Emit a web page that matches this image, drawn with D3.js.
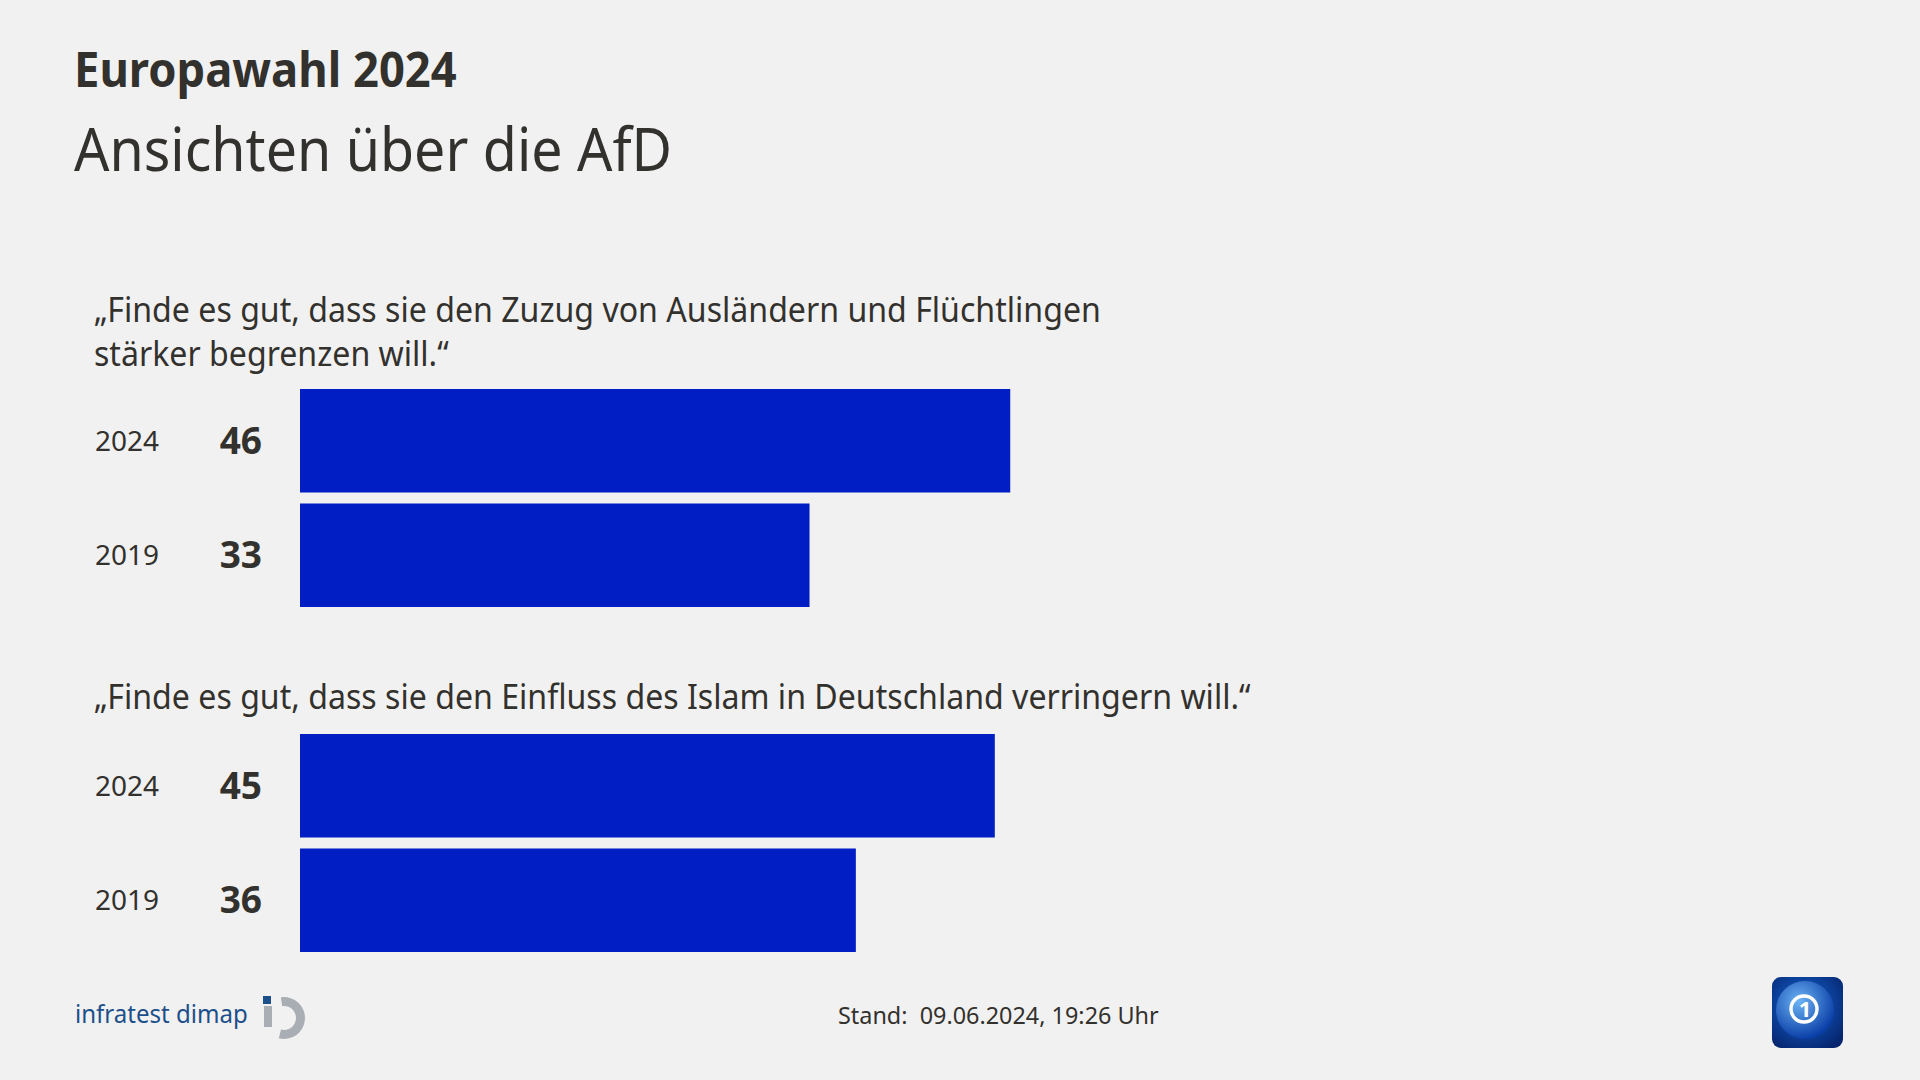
<!DOCTYPE html>
<html>
<head>
<meta charset="utf-8">
<script src="https://cdn.jsdelivr.net/npm/d3@7"></script>
<style>
  html, body { margin: 0; padding: 0; background: #f1f1f1; }
  svg { display: block; }
</style>
</head>
<body>
<svg id="chart" width="1920" height="1080"></svg>
<script>
// chart data
var title = "Europawahl 2024";
var subtitle = "Ansichten über die AfD";
var questions = [
        ["„Finde es gut, dass sie den Zuzug von Ausländern und Flüchtlingen", "stärker begrenzen will.“"],
        ["„Finde es gut, dass sie den Einfluss des Islam in Deutschland verringern will.“"]
];
var years = ["2024", "2019"];
var valuesQ1 = [46, 33];
var valuesQ2 = [45, 36];
var stand = "Stand:\u00a0 09.06.2024, 19:26 Uhr";

var textColour = "#33312e";
var barColour = "#001ec3";
var font = "'Noto Sans', sans-serif";

var svg = d3.select("#chart");

svg.append("rect").attr("width", 1920).attr("height", 1080).attr("fill", "#f1f1f1");

// squeezes a text element horizontally so the wide font looks narrower
function condense(sel, k) {
        if (k == 1) return sel;
        sel.each(function() {
                var w = this.getComputedTextLength();
                d3.select(this).attr("textLength", w * k).attr("lengthAdjust", "spacingAndGlyphs");
        });
        return sel;
}

function label(x, y, txt, size, weight, anchor, k) {
        var t = svg.append("text")
                .attr("x", x)
                .attr("y", y)
                .attr("font-family", font)
                .attr("font-size", size + "px")
                .attr("font-weight", weight)
                .attr("fill", textColour)
                .attr("text-anchor", anchor || "start")
                .text(txt);
        return condense(t, k === undefined ? 1 : k);
}

// header
label(74, 87, title, 49, 700, "start", 0.925);
label(74, 171, subtitle, 60, 400, "start", 0.925);

// scales
var x = d3.scaleLinear().domain([0, 100]).range([300, 1844]);

var groups = [
        { lines: questions[0], textY: 322, bars: [389, 607], values: valuesQ1 },
        { lines: questions[1], textY: 709, bars: [734, 952], values: valuesQ2 }
];

groups.forEach(function(g) {
        g.lines.forEach(function(line, i) {
                label(94, g.textY + i * 44, line, 35, 400, "start", 0.917);
        });

        var y = d3.scaleBand().domain(years).range(g.bars).paddingInner(0.096).paddingOuter(0);

        svg.append("g").selectAll("rect")
                .data(g.values)
                .join("rect")
                .attr("x", x(0))
                .attr("y", function(d, i) { return y(years[i]); })
                .attr("width", function(d) { return x(d) - x(0); })
                .attr("height", y.bandwidth())
                .attr("fill", barColour);

        g.values.forEach(function(v, i) {
                var mid = y(years[i]) + y.bandwidth() / 2;
                label(95, mid + 10, years[i], 28, 400);
                label(262, mid + 13, String(v), 37, 700, "end");
        });
});

// footer
label(838, 1024, stand, 23.4, 400);

// infratest dimap logo
var brand = svg.append("text")
        .attr("x", 75).attr("y", 1023)
        .attr("font-family", font)
        .attr("font-size", "26px")
        .attr("fill", "#1d4f8a")
        .text("infratest dimap");
condense(brand, 0.925);

svg.append("rect").attr("x", 263).attr("y", 996).attr("width", 8).attr("height", 8).attr("fill", "#1d4f8a");
svg.append("rect").attr("x", 264).attr("y", 1006).attr("width", 8).attr("height", 21).attr("fill", "#a8aeb4");
svg.append("path")
        .attr("transform", "translate(284,1018)")
        .attr("d", d3.arc().innerRadius(12).outerRadius(21).startAngle(-0.15).endAngle(Math.PI * 1.08)())
        .attr("fill", "#a8aeb4");

// ARD tagesschau style logo
var defs = svg.append("defs");
var bg = defs.append("radialGradient").attr("id", "ardbg").attr("cx", "45%").attr("cy", "40%").attr("r", "70%");
bg.append("stop").attr("offset", "0%").attr("stop-color", "#1466d6");
bg.append("stop").attr("offset", "100%").attr("stop-color", "#06256e");
var globe = defs.append("radialGradient").attr("id", "ardglobe").attr("cx", "40%").attr("cy", "35%").attr("r", "65%");
globe.append("stop").attr("offset", "0%").attr("stop-color", "#6cb4f4");
globe.append("stop").attr("offset", "100%").attr("stop-color", "#0b3fa8");

svg.append("rect").attr("x", 1772).attr("y", 977).attr("width", 71).attr("height", 71).attr("rx", 9).attr("fill", "url(#ardbg)");
svg.append("circle").attr("cx", 1805).attr("cy", 1010).attr("r", 29).attr("fill", "url(#ardglobe)");
svg.append("circle").attr("cx", 1804).attr("cy", 1009).attr("r", 13).attr("fill", "none").attr("stroke", "#ffffff").attr("stroke-width", 3.5);
svg.append("text")
        .attr("x", 1805).attr("y", 1017)
        .attr("font-family", font).attr("font-size", "22px").attr("font-weight", 700)
        .attr("fill", "#ffffff").attr("text-anchor", "middle")
        .text("1");
</script>
</body>
</html>
